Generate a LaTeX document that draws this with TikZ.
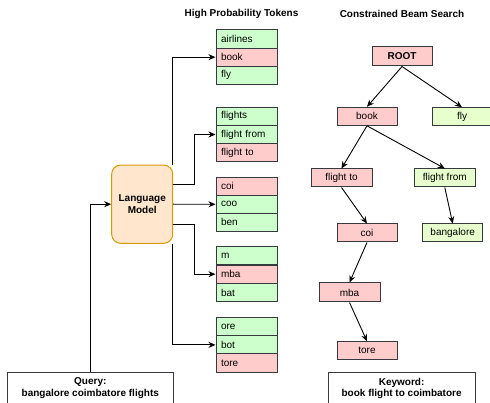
\documentclass[tikz,border=0pt]{standalone}
\usepackage{fontspec}
\setmainfont{Liberation Sans}
\usetikzlibrary{arrows.meta,calc}
\definecolor{cellgreen}{HTML}{CCFFCC}
\definecolor{cellred}{HTML}{FFCCCC}
\definecolor{treegreen}{HTML}{E6FFCC}
\definecolor{cellborder}{HTML}{36393D}
\definecolor{lmfill}{HTML}{FFE6CC}
\definecolor{lmborder}{HTML}{D79B00}
\tikzset{
  txt/.style={font=\fontsize{10}{11.5}\selectfont},
  cell/.style={txt, draw=cellborder, line width=1pt, minimum width=61pt, minimum height=18.2pt,
    text width=51pt, inner xsep=5pt, inner ysep=0pt, align=left},
  gcell/.style={cell, fill=cellgreen},
  rcell/.style={cell, fill=cellred},
  tnode/.style={txt, draw=cellborder, line width=1pt, minimum width=60pt, minimum height=18pt, inner sep=0pt},
  rtnode/.style={tnode, fill=cellred},
  gtnode/.style={tnode, fill=treegreen},
  hdr/.style={font=\fontsize{10}{11.5}\selectfont\bfseries},
  outbox/.style={font=\fontsize{10}{11.5}\selectfont\bfseries, draw=cellborder, line width=1pt, align=center, inner sep=0pt},
  arr/.style={draw=black, line width=0.9pt, -{Stealth[length=7pt,width=6pt]}},
}
\begin{document}
\begin{tikzpicture}[x=1pt,y=-1pt]
\useasboundingbox (0,0) rectangle (490,403);
\clip (0,0) rectangle (490,403);
\fill[white] (0,0) rectangle (490,403);

% headers
\node[hdr] (h1) at (241.5,13.7) {High Probability Tokens};
\node[hdr] (h2) at (402,13.7) {Constrained Beam Search};

% token lists
\node[gcell] (c11) at (246.5,39.1) {airlines};
\node[rcell] (c12) at (246.5,57.2) {book};
\node[gcell] (c13) at (246.5,75.3) {fly};

\node[gcell] (c21) at (246.5,116.4) {flights};
\node[gcell] (c22) at (246.5,134.5) {flight from};
\node[rcell] (c23) at (246.5,152.6) {flight to};

\node[rcell] (c31) at (246.5,186.3) {coi};
\node[gcell] (c32) at (246.5,204.3) {coo};
\node[gcell] (c33) at (246.5,222.2) {ben};

\node[gcell] (c41) at (246.5,255.9) {m};
\node[rcell] (c42) at (246.5,274.2) {mba};
\node[gcell] (c43) at (246.5,292.6) {bat};

\node[gcell] (c51) at (246.5,326.8) {ore};
\node[gcell] (c52) at (246.5,344.9) {bot};
\node[rcell] (c53) at (246.5,363.0) {tore};

% language model
\node[txt, font=\fontsize{10}{11.5}\selectfont\bfseries, draw=lmborder, fill=lmfill, line width=1pt,
  rounded corners=9pt, minimum width=61pt, minimum height=78.3pt, align=center, inner sep=0pt]
  (lm) at (142.2,204.2) {Language\\Model};

% query / keyword
\node[outbox, minimum width=166pt, minimum height=32pt] (query) at (90.3,388.3) {Query:\\bangalore coimbatore flights};
\node[outbox, minimum width=147pt, minimum height=32pt] (kw) at (401.6,388.3) {Keyword:\\book flight to coimbatore};

% connectors from LM
\draw[arr] ([xshift=-0.7pt]lm.north east) |- (c12.west);
\draw[arr] ([yshift=20pt]lm.east) -- ++(21,0) |- (c22.west);
\draw[arr] (lm.east) -- (c32.west);
\draw[arr] ([yshift=-20.5pt]lm.east) -- ++(21,0) |- (c42.west);
\draw[arr] ([xshift=-0.7pt]lm.south east) |- (c52.west);
\draw[arr] (query.north) |- (lm.west);

% tree
\node[rtnode, minimum height=19pt, font=\fontsize{10}{11.5}\selectfont\bfseries] (root) at (402,56.5) {ROOT};
\node[rtnode] (tbook) at (367,116.3) {book};
\node[gtnode] (tfly) at (462,116.7) {fly};
\node[rtnode, minimum width=61pt] (tfto) at (341.5,178) {flight to};
\node[gtnode, minimum width=61pt] (tffrom) at (444.8,178) {flight from};
\node[rtnode] (tcoi) at (367,233) {coi};
\node[gtnode, minimum width=60.5pt] (tbang) at (452.7,233) {bangalore};
\node[rtnode, minimum width=61pt, minimum height=19pt] (tmba) at (349.5,292.5) {mba};
\node[rtnode, minimum height=17.5pt] (ttore) at (367,350.5) {tore};

\draw[arr] (root.south) -- (tbook.north);
\draw[arr] (root.south) -- (tfly.north);
\draw[arr] (tbook.south) -- (tfto.north);
\draw[arr] (tbook.south) -- (tffrom.north);
\draw[arr] (tfto.south) -- (tcoi.north);
\draw[arr] (tffrom.south) -- (tbang.north);
\draw[arr] (tcoi.south) -- (tmba.north);
\draw[arr] (tmba.south) -- (ttore.north);
\end{tikzpicture}
\end{document}
